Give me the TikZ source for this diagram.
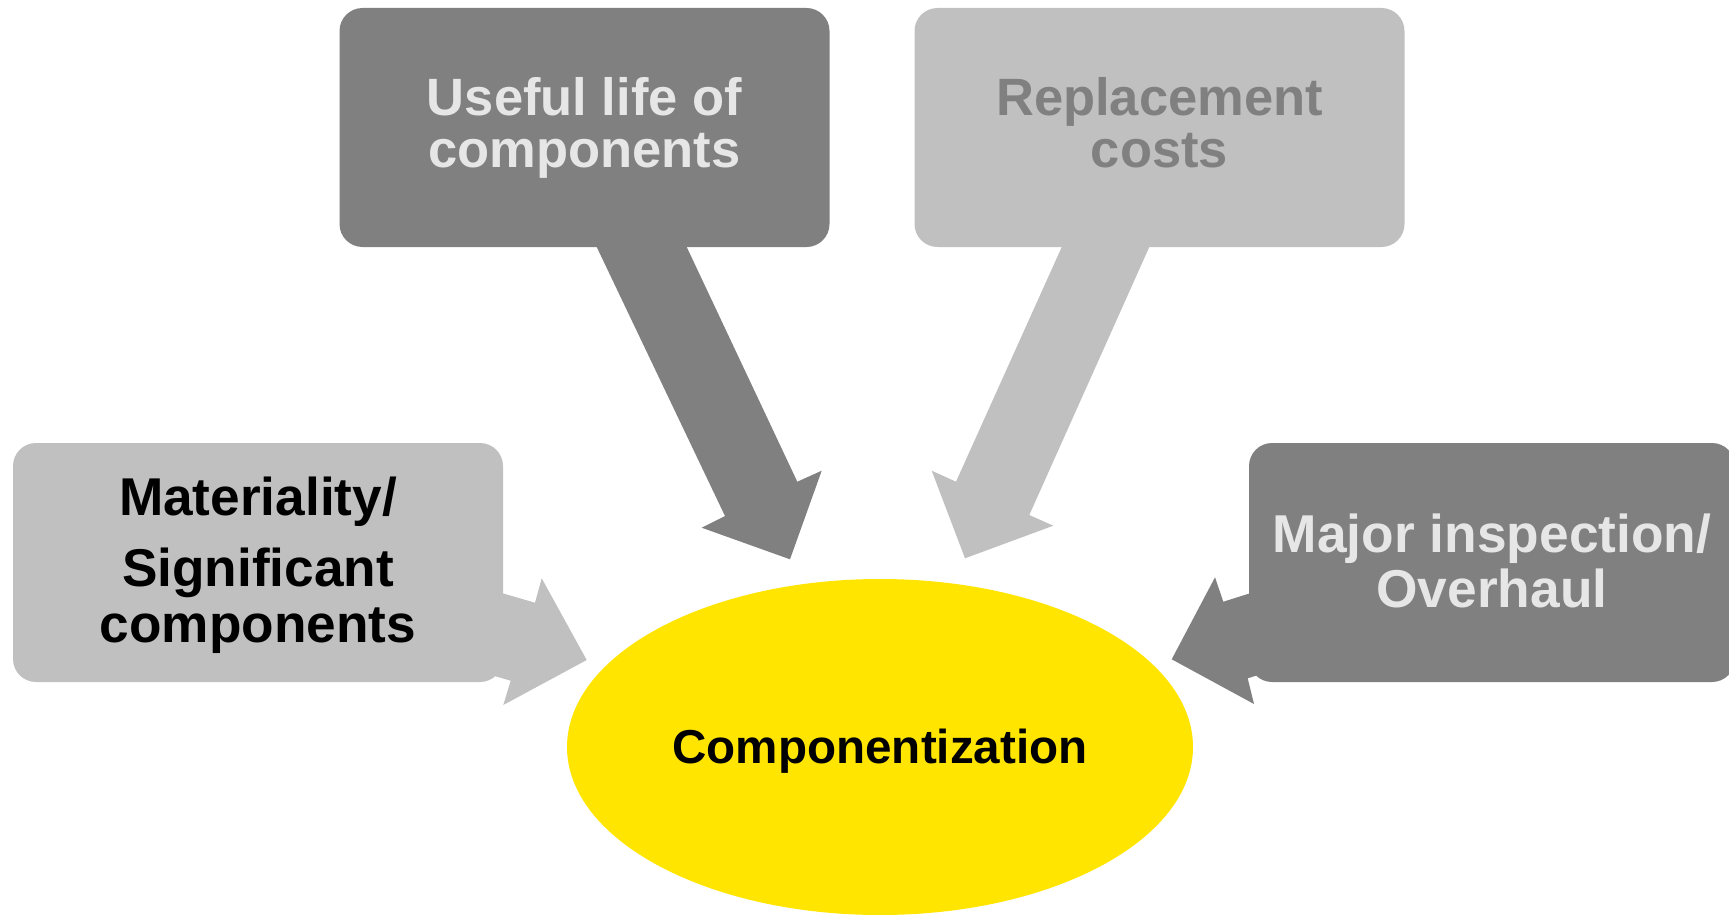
\documentclass[tikz,border=0pt]{standalone}
\usepackage{fontspec}
\setmainfont{Liberation Sans}
\usetikzlibrary{shapes.geometric}
\definecolor{dgray}{HTML}{808080}
\definecolor{lgray}{HTML}{C0C0C0}
\definecolor{ltext}{HTML}{E6E6E6}
\definecolor{cyellow}{HTML}{FFE500}
\begin{document}
\begin{tikzpicture}[x=0.5pt,y=-0.5pt,
  box/.style={rectangle, rounded corners=11.5pt, inner sep=0pt,
    minimum width=245pt, minimum height=119.5pt, align=center},
  label/.style={inner sep=0pt, align=center},
  topfont/.style={font=\bfseries\fontsize{26.25}{26}\selectfont},
  leftfont/.style={font=\bfseries\fontsize{26.6}{28}\selectfont},
  rightfont/.style={font=\bfseries\fontsize{26.65}{27.5}\selectfont},
  darkbox/.style={box, fill=dgray, text=ltext},
  lightbox/.style={box, fill=lgray}]
\useasboundingbox (0,0) rectangle (1729,915);
\clip (0,0) rectangle (1729,915);

% central ellipse
\node[ellipse, fill=cyellow, inner sep=0pt, minimum width=313pt, minimum height=168pt] (core) at (880,747) {};
\node[label, font=\bfseries\fontsize{23.8}{26}\selectfont, yshift=-2pt] (coretext) at (core.center) {Componentization};

% boxes
\node[darkbox, topfont] (life) at (584.5,127.5) {Useful life of\\components};
\node[lightbox, topfont, text=dgray] (repl) at (1159.5,127.5) {Replacement\\costs\vphantom{p}};
\node[lightbox] (mat) at (258,562.5) {};
\node[label, leftfont, text=black, yshift=-1.5pt] (mattext) at (mat.center) {Materiality/\\[7.5pt]Significant\\components};
\node[darkbox, minimum width=243pt] (major) at (1492,562.5) {};
\node[label, rightfont, text=ltext, yshift=1pt] (majortext) at (major.center) {Major inspection/\\Overhaul};

% block arrows (part of each callout shape)
\fill[dgray] (588.6,230) -- (725,516) -- (701.7,527.7) -- (790,559.3)
  -- (821.7,470.7) -- (797.3,481.7) -- (678.7,230) -- cycle;
\fill[lgray] (1069.4,230) -- (956,481.7) -- (931.7,470.7) -- (965,558.3)
  -- (1053.3,525.7) -- (1029.3,515) -- (1156.9,230) -- cycle;
\fill[lgray] (480,586.7) -- (535,602.7) -- (541.7,578.3) -- (586.7,660)
  -- (503.3,705) -- (510.7,680.7) -- (480,671.8) -- cycle;
\fill[dgray] (1270,587) -- (1223.3,601.7) -- (1215,577.3) -- (1171.7,659.3)
  -- (1254,704) -- (1247.7,678.3) -- (1270,671.3) -- cycle;
\end{tikzpicture}
\end{document}
